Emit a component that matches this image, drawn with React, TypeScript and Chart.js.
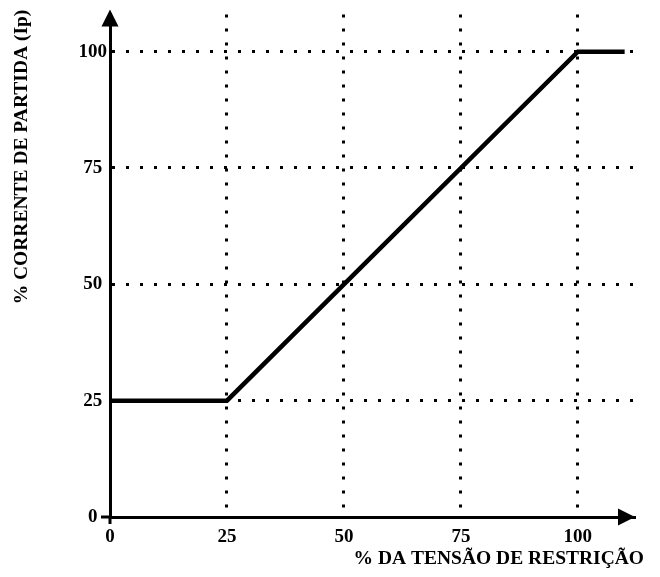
import React, { useEffect, useRef } from "react";
import { Chart, registerables } from "chart.js";

Chart.register(...registerables);

const restraintVoltage = [0, 25, 100, 110];
const pickupCurrent = [25, 25, 100, 100];
const xTickValues = [0, 25, 50, 75, 100];
const yTickValues = [0, 25, 50, 75, 100];
const xTitle = "% DA TENSÃO DE RESTRIÇÃO";
const yTitle = "% CORRENTE DE PARTIDA (Ip)";

const FONT = "'Liberation Serif', 'Times New Roman', serif";

const decorPlugin = {
  id: "decor",
  afterDraw(chart: any) {
    const { ctx, chartArea } = chart;
    const { left, right, top, bottom } = chartArea;
    ctx.save();
    ctx.fillStyle = "#000";
    ctx.strokeStyle = "#000";
    // y arrow
    ctx.beginPath();
    ctx.moveTo(left, top - 5);
    ctx.lineTo(left - 8.5, top + 12);
    ctx.lineTo(left + 8.5, top + 12);
    ctx.closePath();
    ctx.fill();
    // x arrow
    ctx.beginPath();
    ctx.moveTo(right + 1, bottom);
    ctx.lineTo(right - 16, bottom - 8.5);
    ctx.lineTo(right - 16, bottom + 8.5);
    ctx.closePath();
    ctx.fill();
    // origin ticks
    ctx.lineWidth = 3;
    ctx.beginPath();
    ctx.moveTo(left - 9, bottom);
    ctx.lineTo(left, bottom);
    ctx.moveTo(left, bottom);
    ctx.lineTo(left, bottom + 7);
    ctx.stroke();
    // titles
    ctx.font = `bold 19.5px ${FONT}`;
    ctx.textAlign = "right";
    ctx.textBaseline = "alphabetic";
    ctx.fillText(xTitle, 644, 564);
    ctx.translate(27, 157);
    ctx.rotate(-Math.PI / 2);
    ctx.textAlign = "center";
    ctx.fillText(yTitle, 0, 0);
    ctx.restore();
  },
};

export default function App() {
  const ref = useRef<HTMLCanvasElement | null>(null);
  useEffect(() => {
    document.body.style.margin = "0";
    const canvas = ref.current;
    if (!canvas) return;
    const gridColor = (c: any) =>
      c.tick && c.tick.value === 0 ? "rgba(0,0,0,0)" : "#000";
    const chart = new Chart(canvas, {
      type: "line",
      data: {
        datasets: [
          {
            data: restraintVoltage.map((x, i) => ({ x, y: pickupCurrent[i] })),
            borderColor: "#000",
            borderWidth: 4.5,
            pointRadius: 0,
            fill: false,
            tension: 0,
          },
        ],
      },
      options: {
        animation: false,
        responsive: false,
        devicePixelRatio: 1,
        layout: { padding: { top: 13, right: 26, left: 0, bottom: 0 } },
        plugins: {
          legend: { display: false },
          tooltip: { enabled: false },
        },
        scales: {
          x: {
            type: "linear",
            min: 0,
            max: 112,
            afterBuildTicks: (s: any) => {
              s.ticks = xTickValues.map((v) => ({ value: v }));
            },
            afterFit: (s: any) => {
              s.height = 60;
            },
            grid: { color: gridColor, lineWidth: 3, drawTicks: false },
            border: { display: true, color: "#000", width: 3, dash: [3, 11] },
            ticks: {
              color: "#000",
              padding: 9,
              maxRotation: 0,
              font: { family: FONT, size: 19, weight: "bold" },
            },
          },
          y: {
            type: "linear",
            min: 0,
            max: 108,
            afterBuildTicks: (s: any) => {
              s.ticks = yTickValues.map((v) => ({ value: v }));
            },
            afterFit: (s: any) => {
              s.width = 110;
            },
            grid: { color: gridColor, lineWidth: 3, drawTicks: false },
            border: { display: true, color: "#000", width: 3, dash: [3, 11] },
            ticks: {
              color: "#000",
              padding: 3,
              crossAlign: "center",
              font: { family: FONT, size: 19, weight: "bold" },
            },
          },
        },
      },
      plugins: [decorPlugin],
    } as any);
    return () => chart.destroy();
  }, []);
  return (
    <div style={{ width: 660, height: 577, background: "#fff" }}>
      <canvas ref={ref} width={660} height={577} style={{ display: "block" }} />
    </div>
  );
}
